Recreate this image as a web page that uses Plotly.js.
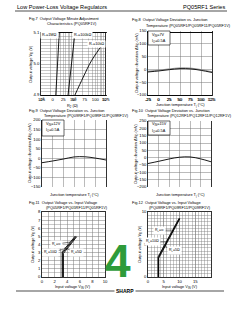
<!DOCTYPE html>
<html><head><meta charset="utf-8">
<script src="https://cdn.plot.ly/plotly-3.0.1.min.js"></script>
<style>html,body{margin:0;padding:0;background:#fff}#c{width:240px;height:310px}</style>
</head><body><div id="c"></div>
<script>
// ---------- data ----------
// Fig.7 Output voltage minute adjustment
const fig7X1 = [290, 310, 330, 350, 372];
const fig7Y1 = [4.90, 4.95, 5.00, 5.05, 5.10];
const fig7X2 = [700, 790, 890, 1010, 1150];
const fig7Y2 = [4.90, 4.95, 5.00, 5.05, 5.10];
const fig7X3 = [1150, 2100, 3800, 10000];
const fig7Y3 = [4.90, 4.958, 5.011, 5.074];
const fig7Labels = ['R\u2081=1M\u03a9', 'R\u2081=100k\u03a9', 'R\u2081=10k\u03a9'];
const fig7XTicks = [100, 1000, 10000];
const fig7XTickText = ['10\u00b2', '10\u00b3', '10\u2074'];
const fig7XMinor = [200, 300, 400, 500, 600, 700, 800, 900, 2000, 3000, 4000, 5000, 6000, 7000, 8000, 9000];
// Fig.8-10 deviation vs junction temperature
const tj = [-25, 0, 25, 50, 75, 100, 125];
const fig8A = [-10, -6, -1, 3, 2, -4, -12];
const fig8B = [-7, -3, 2, 6, 5, -1, -9];
const fig9 = [-23, -14, -4, 7, 8, 1, -9];
const fig10 = [-40, -25, -9, 3, 5, -8, -28];
const fig8Cond = ['V<sub>IN</sub>=7V', 'I<sub>O</sub>=0.5A'];
const fig9Cond = ['V<sub>IN</sub>=12V', 'I<sub>O</sub>=0.5A'];
const fig10Cond = ['V<sub>IN</sub>=15V', 'I<sub>O</sub>=0.5A'];
// Fig.11 output vs input (5V)
const fig11XInf = [3.2, 3.2, 5.3];
const fig11YInf = [0, 3.1, 5.05];
const fig11X10 = [3.3, 3.3, 5.4];
const fig11Y10 = [0, 3.0, 5.0];
const fig11X5 = [3.4, 3.4, 5.5];
const fig11Y5 = [0, 2.9, 4.95];
// Fig.12 output vs input (9V)
const fig12XInf = [3.2, 3.2, 9.9];
const fig12YInf = [0, 3.1, 9.05];
const fig12X10 = [3.3, 3.3, 10.0];
const fig12Y10 = [0, 3.0, 9.0];
const fig12X5 = [3.4, 3.4, 10.1];
const fig12Y5 = [0, 2.9, 8.95];
const loadLabels = ['R<sub>L</sub>=\u221e', 'R<sub>L</sub>=10\u03a9', 'R<sub>L</sub>=5\u03a9'];

// ---------- helpers ----------
const W = 240, H = 310;
const FONT = 'Liberation Sans, Arial, sans-serif';
const px = x => x / W;
const py = y => 1 - y / H;
function dom(a, b, size) { return [a / size, b / size]; }
function ydom(top, bot) { return [py(bot), py(top)]; }
const GRID = '#777';
function axis(d, extra) {
  return Object.assign({
    domain: d, showline: true, mirror: true, linecolor: '#000', linewidth: 0.8,
    showgrid: true, gridcolor: GRID, gridwidth: 0.5, zeroline: false,
    ticks: '', ticklen: 0, tickfont: {family: FONT, size: 4.2, color: '#000'},
    fixedrange: true, automargin: false
  }, extra);
}
function line(x, y, xa, ya, extra) {
  return Object.assign({x: x, y: y, xaxis: xa, yaxis: ya, mode: 'lines',
    line: {color: '#000', width: 0.9}, hoverinfo: 'skip'}, extra || {});
}

const traces = [
  line(fig7X1, fig7Y1, 'x', 'y'),
  line(fig7X2, fig7Y2, 'x', 'y'),
  line(fig7X3, fig7Y3, 'x', 'y', {line: {color: '#000', width: 0.9, shape: 'spline'}}),
  line(tj, fig8B, 'x2', 'y2', {line: {color: '#888', width: 0.9, shape: 'spline'}}),
  line(tj, fig8A, 'x2', 'y2', {line: {color: '#000', width: 0.9, shape: 'spline'}}),
  line(tj, fig9, 'x3', 'y3', {line: {color: '#000', width: 0.9, shape: 'spline'}}),
  line(tj, fig10, 'x4', 'y4', {line: {color: '#000', width: 0.9, shape: 'spline'}}),
  line(fig11XInf, fig11YInf, 'x5', 'y5'),
  line(fig11X10, fig11Y10, 'x5', 'y5'),
  line(fig11X5, fig11Y5, 'x5', 'y5'),
  line(fig12XInf, fig12YInf, 'x6', 'y6'),
  line(fig12X10, fig12Y10, 'x6', 'y6'),
  line(fig12X5, fig12Y5, 'x6', 'y6')
];

const devX = d => axis(d, {range: [-25, 125], tickvals: tj, ticktext: tj.map(String)});

const layout = {
  width: W, height: H, margin: {l: 0, r: 0, t: 0, b: 0},
  paper_bgcolor: '#fff', plot_bgcolor: '#fff', showlegend: false,
  font: {family: FONT, color: '#000'},
  xaxis: axis(dom(41, 105, W), {type: 'log', range: [2, 4], tickvals: fig7XTicks, ticktext: fig7XTickText, anchor: 'y',
    minor: {tickvals: fig7XMinor, showgrid: true, gridcolor: GRID, gridwidth: 0.4}}),
  yaxis: axis(ydom(33, 95), {range: [4.9, 5.1], dtick: 0.1, tickformat: '.1f', anchor: 'x',
    minor: {dtick: 0.01, showgrid: true, gridcolor: GRID, gridwidth: 0.4}}),
  xaxis2: devX(dom(148, 212, W)),
  yaxis2: axis(ydom(31, 95), {range: [-100, 150], dtick: 50, anchor: 'x2'}),
  xaxis3: devX(dom(42, 106, W)),
  yaxis3: axis(ydom(120, 187), {range: [-150, 200], dtick: 50, anchor: 'x3'}),
  xaxis4: devX(dom(148, 211, W)),
  yaxis4: axis(ydom(121, 187), {range: [-200, 250], dtick: 50, anchor: 'x4'}),
  xaxis5: axis(dom(42, 105, W), {range: [0, 10], dtick: 2, anchor: 'y5',
    minor: {dtick: 1, showgrid: true, gridcolor: GRID, gridwidth: 0.5}}),
  yaxis5: axis(ydom(212, 277), {range: [0, 8], dtick: 1, anchor: 'x5',
    minor: {dtick: 0.5, showgrid: true, gridcolor: GRID, gridwidth: 0.4}}),
  xaxis6: axis(dom(148, 211, W), {range: [0, 20], tickvals: [0, 5, 10, 15], anchor: 'y6',
    minor: {dtick: 1, showgrid: true, gridcolor: GRID, gridwidth: 0.4}}),
  yaxis6: axis(ydom(212, 277), {range: [0, 10], dtick: 5, anchor: 'x6',
    minor: {dtick: 0.5, showgrid: true, gridcolor: GRID, gridwidth: 0.4}}),
  shapes: [], annotations: []
};

const A = layout.annotations, S = layout.shapes;
function txt(x, y, t, size, o) {
  A.push(Object.assign({xref: 'paper', yref: 'paper', x: px(x), y: py(y), text: t, showarrow: false,
    font: {family: FONT, size: size, color: '#000'}, xanchor: 'left', yanchor: 'middle'}, o || {}));
}
function hline(x0, x1, y, w) {
  S.push({type: 'line', xref: 'paper', yref: 'paper', x0: px(x0), x1: px(x1), y0: py(y), y1: py(y), line: {color: '#000', width: w}});
}

// header
txt(15, 6.5, 'Low Power-Loss Voltage Regulators', 5.6);
txt(227, 6.5, 'PQ05RF1 Series', 5.6, {xanchor: 'right'});
hline(15, 227, 11, 0.7);

// figure titles
const TF = 3.9;
txt(27, 19, 'Fig.7  Output Voltage Minute Adjustment', TF);
txt(45, 24, 'Characteristics (PQ05RF1V)', TF);
txt(130, 20, 'Fig.8  Output Voltage Deviation vs. Junction', TF);
txt(144, 25, 'Temperature (PQ05RF1/PQ05RF11/PQ05RF1V)', TF);
txt(27, 110, 'Fig.9  Output Voltage Deviation vs. Junction', TF);
txt(42, 115, 'Temperature (PQ09RF1/PQ09RF11/PQ09RF1V)', TF);
txt(130, 110, 'Fig.10  Output Voltage Deviation vs. Junction', TF);
txt(145, 115, 'Temperature (PQ12RF1/PQ12RF11/PQ12RF1V)', TF);
txt(27, 202, 'Fig.11  Output Voltage vs. Input Voltage', TF);
txt(44, 207, '(PQ05RF1/PQ05RF11/PQ05RF1V)', TF);
txt(130, 202, 'Fig.12  Output Voltage vs. Input Voltage', TF);
txt(147, 207, '(PQ09RF1/PQ09RF11/PQ09RF1V)', TF);

// axis titles
function ytitle(x, y, t) { txt(x, y, t, 3.9, {xanchor: 'center', textangle: -90}); }
function xtitle(x, y, t) { txt(x, y, t, 3.9, {xanchor: 'center'}); }
ytitle(31, 64, 'Output voltage V<sub>O</sub> (V)');
ytitle(137, 63, 'Output voltage deviation \u0394V<sub>O</sub> (mV)');
ytitle(30, 153, 'Output voltage deviation \u0394V<sub>O</sub> (mV)');
ytitle(136, 154, 'Output voltage deviation \u0394V<sub>O</sub> (mV)');
ytitle(33, 244, 'Output voltage V<sub>O</sub> (V)');
ytitle(140, 244, 'Output voltage V<sub>O</sub> (V)');
xtitle(73, 106, 'R<sub>2</sub> (\u03a9)');
xtitle(180, 104.5, 'Junction temperature T<sub>j</sub> (\u00b0C)');
xtitle(74, 194.5, 'Junction temperature T<sub>j</sub> (\u00b0C)');
xtitle(180, 194.5, 'Junction temperature T<sub>j</sub> (\u00b0C)');
xtitle(73, 286.5, 'Input voltage V<sub>IN</sub> (V)');
xtitle(180, 286.5, 'Input voltage V<sub>IN</sub> (V)');

// Fig.7 curve labels (data coords)
function dtxt(xr, yr, x, y, t, o) {
  A.push(Object.assign({xref: xr, yref: yr, x: x, y: y, text: t, showarrow: false,
    font: {family: FONT, size: 3.8, color: '#000'}, bgcolor: '#fff'}, o || {}));
}
dtxt('x', 'y', 2.27, 5.094, fig7Labels[0]);
dtxt('x', 'y', 3.3, 5.094, fig7Labels[1]);
dtxt('x', 'y', 3.72, 5.066, fig7Labels[2]);

// condition boxes
function condBox(x0, x1, y0, y1, lines) {
  S.push({type: 'rect', xref: 'paper', yref: 'paper', x0: px(x0), x1: px(x1), y0: py(y1), y1: py(y0),
    line: {color: '#000', width: 0.6}, fillcolor: '#fff'});
  txt(x0 + 2, y0 + 4, lines[0], 3.8);
  txt(x0 + 2, y0 + 10, lines[1], 3.8);
}
condBox(148, 170, 31, 45, fig8Cond);
condBox(42, 64, 120, 136, fig9Cond);
condBox(148, 170, 121, 135, fig10Cond);

// arrows for load labels
function arrowLbl(xr, yr, x, y, t, ax, ay) {
  A.push({xref: xr, yref: yr, x: x, y: y, text: t, showarrow: true, arrowhead: 0, arrowwidth: 0.5,
    arrowcolor: '#000', ax: ax, ay: ay, font: {family: FONT, size: 3.6, color: '#000'}, bgcolor: '#fff'});
}
arrowLbl('x5', 'y5', 4.5, 4.3, loadLabels[0], -14, 2);
arrowLbl('x5', 'y5', 3.3, 3.4, loadLabels[1], -12, 3);
arrowLbl('x5', 'y5', 3.6, 3.6, loadLabels[2], 12, 5);
arrowLbl('x6', 'y6', 7.8, 7.2, loadLabels[0], -13, 0);
arrowLbl('x6', 'y6', 5.8, 5.4, loadLabels[1], -14, 0);
arrowLbl('x6', 'y6', 5.4, 4.7, loadLabels[2], 9, 4);

// section tab "4"
txt(118, 261, '<b>4</b>', 46, {xanchor: 'center', font: {family: FONT, size: 46, color: '#2e9b3a'}});

// footer
hline(16, 224, 291, 0.7);
txt(124.5, 291, '<b>SHARP</b>', 5, {xanchor: 'center', bgcolor: '#fff'});

Plotly.newPlot('c', traces, layout, {staticPlot: true, displayModeBar: false});
</script>
</body></html>
